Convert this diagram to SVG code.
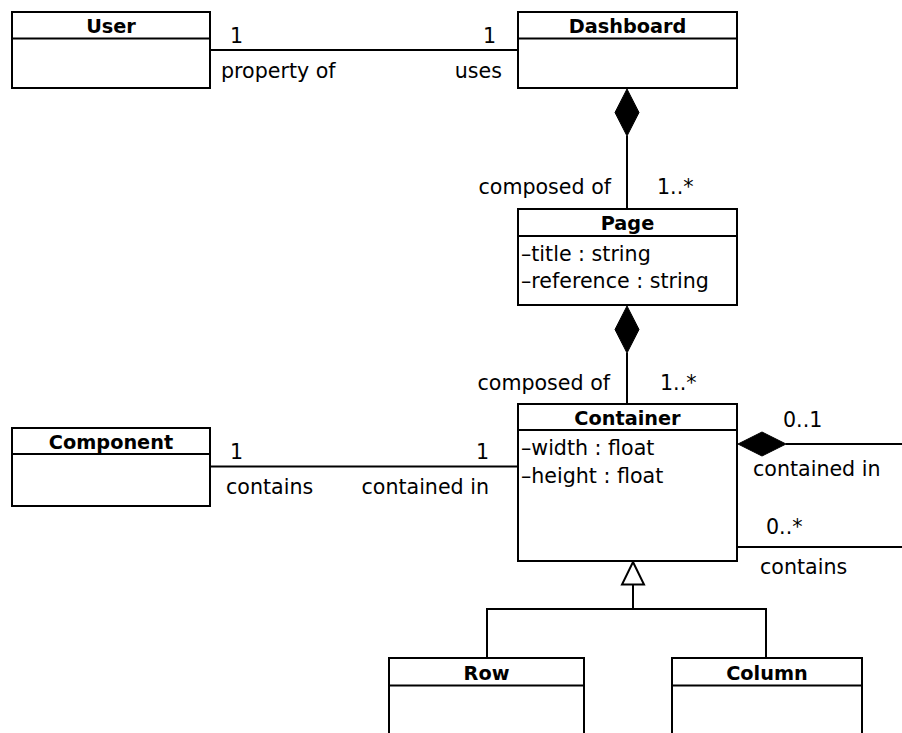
<svg xmlns="http://www.w3.org/2000/svg" width="902" height="733" viewBox="0 0 902 733">
<style>
.box{fill:#fff;stroke:#000;stroke-width:2}
.ln{fill:none;stroke:#000;stroke-width:2}
.t{font-family:"DejaVu Sans","Liberation Sans",sans-serif;font-size:20.6px;fill:#000}
.h{font-family:"DejaVu Sans","Liberation Sans",sans-serif;font-size:19.3px;font-weight:bold;fill:#000;text-anchor:middle}
.dia{fill:#000;stroke:#000;stroke-width:1}
.tri{fill:#fff;stroke:#000;stroke-width:2}
</style>
<rect width="902" height="733" fill="#fff"/>
<g id="connectors">
  <line class="ln" x1="211" y1="50" x2="518" y2="50"/>
  <line class="ln" x1="627" y1="136" x2="627" y2="209"/>
  <polygon class="dia" points="627,89 639,112.5 627,136 615,112.5"/>
  <line class="ln" x1="627" y1="353" x2="627" y2="404"/>
  <polygon class="dia" points="627,306 639,329.5 627,353 615,329.5"/>
  <line class="ln" x1="211" y1="466.5" x2="518" y2="466.5"/>
  <line class="ln" x1="786" y1="444" x2="902" y2="444"/>
  <polygon class="dia" points="738,444 762,432 786,444 762,456"/>
  <line class="ln" x1="737" y1="547" x2="902" y2="547"/>
  <polyline class="ln" points="487,658 487,609 766,609 766,658"/>
  <line class="ln" x1="633" y1="584.5" x2="633" y2="609"/>
  <polygon class="tri" points="633,562 644,584.5 622,584.5"/>
  <text class="t" x="230" y="43">1</text>
  <text class="t" x="221" y="78">property of</text>
  <text class="t" x="496" y="43" text-anchor="end">1</text>
  <text class="t" x="502" y="78" text-anchor="end">uses</text>
  <text class="t" x="611" y="194" text-anchor="end">composed of</text>
  <text class="t" x="657" y="194">1..*</text>
  <text class="t" x="610" y="390" text-anchor="end">composed of</text>
  <text class="t" x="660" y="390">1..*</text>
  <text class="t" x="230" y="459">1</text>
  <text class="t" x="226" y="494">contains</text>
  <text class="t" x="489" y="459" text-anchor="end">1</text>
  <text class="t" x="489" y="494" text-anchor="end">contained in</text>
  <text class="t" x="783" y="427">0..1</text>
  <text class="t" x="753" y="476">contained in</text>
  <text class="t" x="766" y="534">0..*</text>
  <text class="t" x="760" y="574">contains</text>
</g>
<g id="User">
  <rect class="box" x="12" y="12" width="198" height="76"/>
  <line class="ln" x1="12" y1="38.5" x2="210" y2="38.5"/>
  <text class="h" x="111" y="33">User</text>
</g>
<g id="Dashboard">
  <rect class="box" x="518" y="12" width="219" height="76"/>
  <line class="ln" x1="518" y1="38.5" x2="737" y2="38.5"/>
  <text class="h" x="627.5" y="33">Dashboard</text>
</g>
<g id="Page">
  <rect class="box" x="518" y="209" width="219" height="96"/>
  <line class="ln" x1="518" y1="236" x2="737" y2="236"/>
  <text class="h" x="627.5" y="230">Page</text>
  <text class="t" x="521" y="261">–title : string</text>
  <text class="t" x="521" y="288">–reference : string</text>
</g>
<g id="Container">
  <rect class="box" x="518" y="404" width="219" height="157"/>
  <line class="ln" x1="518" y1="430" x2="737" y2="430"/>
  <text class="h" x="627.5" y="425">Container</text>
  <text class="t" x="521" y="455">–width : float</text>
  <text class="t" x="521" y="483">–height : float</text>
</g>
<g id="Component">
  <rect class="box" x="12" y="428" width="198" height="78"/>
  <line class="ln" x1="12" y1="454" x2="210" y2="454"/>
  <text class="h" x="111" y="449">Component</text>
</g>
<g id="Row">
  <rect class="box" x="389" y="658" width="195" height="90"/>
  <line class="ln" x1="389" y1="685.5" x2="584" y2="685.5"/>
  <text class="h" x="486.5" y="680">Row</text>
</g>
<g id="Column">
  <rect class="box" x="672" y="658" width="190" height="90"/>
  <line class="ln" x1="672" y1="685.5" x2="862" y2="685.5"/>
  <text class="h" x="767" y="680">Column</text>
</g>
</svg>
